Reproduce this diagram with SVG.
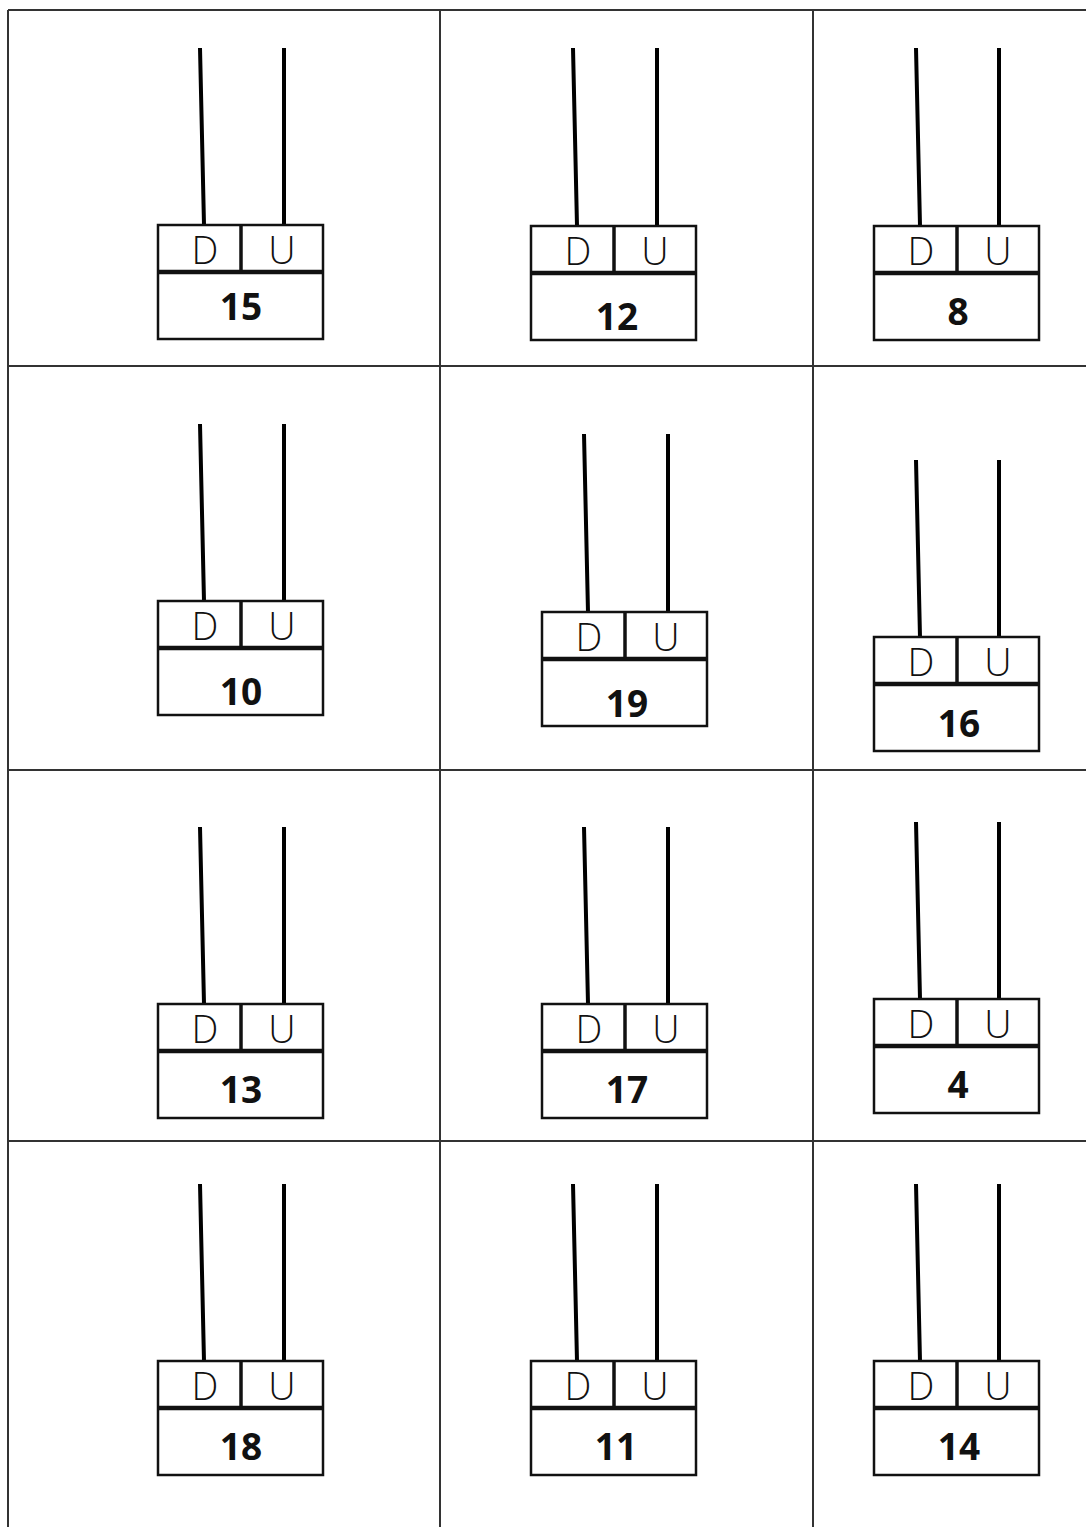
<svg xmlns="http://www.w3.org/2000/svg" width="1086" height="1527" viewBox="0 0 1086 1527">
<style>
.grid{stroke:#333;stroke-width:2;fill:none}
.box{fill:#fff;stroke:#111;stroke-width:2.5}
.thick{stroke:#111;stroke-width:4.5}
.mid{stroke:#111;stroke-width:3.5}
.rod{stroke:#000;stroke-width:4;stroke-linecap:butt}
.du{font-family:"Open Sans","Noto Sans",sans-serif;font-weight:300;font-size:38px;fill:#111;text-anchor:middle}
.num{font-family:"Open Sans","Noto Sans",sans-serif;font-weight:700;font-size:37px;fill:#111;text-anchor:middle}
</style>
<rect width="1086" height="1527" fill="#fff"/>
<g id="grid">
<path class="grid" d="M8 10H1086M8 10V1527M440 10V1527M813 10V1527M8 366H1086M8 770H1086M8 1141H1086"/>
</g>
<g id="connectors">
<path class="rod" d="M200 48L204 225M284 48V225"/>
<path class="rod" d="M573 48L577 226M657 48V226"/>
<path class="rod" d="M916 48L920 226M999 48V226"/>
<path class="rod" d="M200 424L204 601M284 424V601"/>
<path class="rod" d="M584 434L588 612M668 434V612"/>
<path class="rod" d="M916 460L920 637M999 460V637"/>
<path class="rod" d="M200 827L204 1004M284 827V1004"/>
<path class="rod" d="M584 827L588 1004M668 827V1004"/>
<path class="rod" d="M916 822L920 999M999 822V999"/>
<path class="rod" d="M200 1184L204 1361M284 1184V1361"/>
<path class="rod" d="M573 1184L577 1361M657 1184V1361"/>
<path class="rod" d="M916 1184L920 1361M999 1184V1361"/>
</g>
<g id="n15" transform="translate(158,225)">
<rect class="box" width="165" height="114"/><line class="thick" x1="0" y1="47" x2="165" y2="47"/><line class="mid" x1="83" y1="0" x2="83" y2="47"/>
<text class="du" x="47" y="39">D</text><text class="du" x="124" y="39">U</text><text class="num" x="83" y="95">15</text>
</g>
<g id="n12" transform="translate(531,226)">
<rect class="box" width="165" height="114"/><line class="thick" x1="0" y1="47" x2="165" y2="47"/><line class="mid" x1="83" y1="0" x2="83" y2="47"/>
<text class="du" x="47" y="39">D</text><text class="du" x="124" y="39">U</text><text class="num" x="86" y="104">12</text>
</g>
<g id="n8" transform="translate(874,226)">
<rect class="box" width="165" height="114"/><line class="thick" x1="0" y1="47" x2="165" y2="47"/><line class="mid" x1="83" y1="0" x2="83" y2="47"/>
<text class="du" x="47" y="39">D</text><text class="du" x="124" y="39">U</text><text class="num" x="84" y="99">8</text>
</g>
<g id="n10" transform="translate(158,601)">
<rect class="box" width="165" height="114"/><line class="thick" x1="0" y1="47" x2="165" y2="47"/><line class="mid" x1="83" y1="0" x2="83" y2="47"/>
<text class="du" x="47" y="39">D</text><text class="du" x="124" y="39">U</text><text class="num" x="83" y="104">10</text>
</g>
<g id="n19" transform="translate(542,612)">
<rect class="box" width="165" height="114"/><line class="thick" x1="0" y1="47" x2="165" y2="47"/><line class="mid" x1="83" y1="0" x2="83" y2="47"/>
<text class="du" x="47" y="39">D</text><text class="du" x="124" y="39">U</text><text class="num" x="85" y="105">19</text>
</g>
<g id="n16" transform="translate(874,637)">
<rect class="box" width="165" height="114"/><line class="thick" x1="0" y1="47" x2="165" y2="47"/><line class="mid" x1="83" y1="0" x2="83" y2="47"/>
<text class="du" x="47" y="39">D</text><text class="du" x="124" y="39">U</text><text class="num" x="85" y="100">16</text>
</g>
<g id="n13" transform="translate(158,1004)">
<rect class="box" width="165" height="114"/><line class="thick" x1="0" y1="47" x2="165" y2="47"/><line class="mid" x1="83" y1="0" x2="83" y2="47"/>
<text class="du" x="47" y="39">D</text><text class="du" x="124" y="39">U</text><text class="num" x="83" y="99">13</text>
</g>
<g id="n17" transform="translate(542,1004)">
<rect class="box" width="165" height="114"/><line class="thick" x1="0" y1="47" x2="165" y2="47"/><line class="mid" x1="83" y1="0" x2="83" y2="47"/>
<text class="du" x="47" y="39">D</text><text class="du" x="124" y="39">U</text><text class="num" x="85" y="99">17</text>
</g>
<g id="n4" transform="translate(874,999)">
<rect class="box" width="165" height="114"/><line class="thick" x1="0" y1="47" x2="165" y2="47"/><line class="mid" x1="83" y1="0" x2="83" y2="47"/>
<text class="du" x="47" y="39">D</text><text class="du" x="124" y="39">U</text><text class="num" x="84" y="99">4</text>
</g>
<g id="n18" transform="translate(158,1361)">
<rect class="box" width="165" height="114"/><line class="thick" x1="0" y1="47" x2="165" y2="47"/><line class="mid" x1="83" y1="0" x2="83" y2="47"/>
<text class="du" x="47" y="39">D</text><text class="du" x="124" y="39">U</text><text class="num" x="83" y="99">18</text>
</g>
<g id="n11" transform="translate(531,1361)">
<rect class="box" width="165" height="114"/><line class="thick" x1="0" y1="47" x2="165" y2="47"/><line class="mid" x1="83" y1="0" x2="83" y2="47"/>
<text class="du" x="47" y="39">D</text><text class="du" x="124" y="39">U</text><text class="num" x="85" y="99">11</text>
</g>
<g id="n14" transform="translate(874,1361)">
<rect class="box" width="165" height="114"/><line class="thick" x1="0" y1="47" x2="165" y2="47"/><line class="mid" x1="83" y1="0" x2="83" y2="47"/>
<text class="du" x="47" y="39">D</text><text class="du" x="124" y="39">U</text><text class="num" x="85" y="99">14</text>
</g>
</svg>
